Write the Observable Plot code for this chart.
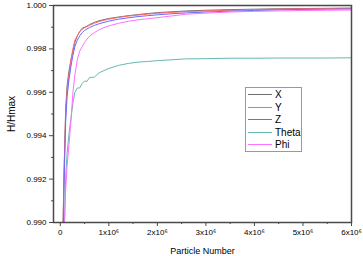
<!DOCTYPE html>
<html><head><meta charset="utf-8">
<script src="https://cdn.jsdelivr.net/npm/d3@7"></script>
<script src="https://cdn.jsdelivr.net/npm/@observablehq/plot@0.6"></script>
<style>
body{margin:0;background:#fff;}
#wrap{position:relative;width:363px;height:256px;font-family:"Liberation Sans",Arial,sans-serif;}
#legend{position:absolute;left:245px;top:87px;width:55px;height:63px;border:1px solid #999;background:#fff;font-size:10px;color:#000;}
#legend .row{position:absolute;left:2px;height:13px;display:flex;align-items:center;}
#legend .sw{width:24px;height:0;border-top:1px solid;margin-right:3px;}
</style></head>
<body><div id="wrap"><div id="legend"></div></div>
<script>
const particles = [50000,80000,110000,140000,180000,220000,260000,300000,350000,400000,450000,500000,550000,600000,700000,800000,900000,1000000,1200000,1400000,1600000,1800000,2000000,2300000,2600000,3000000,3500000,4000000,4500000,5000000,5500000,6000000];
const seriesNames = ["X","Y","Z","Theta","Phi"];
const seriesColors = ["#6e6e6e","#ff6a6a","#6a6aff","#66b8b2","#ff70ff"];
const valX = [0.9893,0.9925,0.9952,0.9963,0.9970,0.9975,0.9979,0.9983,0.9986,0.9988,0.99895,0.9990,0.99905,0.99912,0.99922,0.99930,0.99935,0.99940,0.99947,0.99953,0.99958,0.99963,0.99967,0.99971,0.99975,0.99978,0.99981,0.99983,0.99985,0.99986,0.99987,0.99988];
const valY = [0.9888,0.9926,0.9949,0.9961,0.9968,0.9975,0.9980,0.9984,0.9986,0.9988,0.9989,0.99898,0.99903,0.99908,0.99918,0.99926,0.99932,0.99937,0.99945,0.99951,0.99956,0.99960,0.99964,0.99968,0.99972,0.99975,0.99978,0.99981,0.99983,0.99985,0.99986,0.99987];
const valZ = [0.9880,0.9920,0.9946,0.9958,0.9966,0.9972,0.9977,0.9981,0.9984,0.9986,0.99875,0.99885,0.99892,0.99898,0.99908,0.99916,0.99922,0.99928,0.99937,0.99943,0.99949,0.99953,0.99957,0.99962,0.99966,0.99970,0.99974,0.99977,0.99980,0.99982,0.99983,0.99984];
const valTheta = [0.9860,0.9895,0.9920,0.9932,0.9941,0.9948,0.9955,0.9960,0.9962,0.9962,0.9964,0.99652,0.99650,0.99668,0.99670,0.99690,0.99700,0.99710,0.99724,0.99733,0.99739,0.99742,0.99746,0.99750,0.99754,0.99755,0.99757,0.99757,0.99758,0.99758,0.99758,0.99759];
const valPhi = [0.9850,0.9895,0.9915,0.9926,0.9936,0.9947,0.9960,0.9968,0.9975,0.9979,0.9981,0.9983,0.99845,0.99858,0.99875,0.99888,0.99898,0.99906,0.99918,0.99927,0.99934,0.99939,0.99944,0.99952,0.99960,0.99965,0.99970,0.99973,0.99975,0.99977,0.99978,0.99979];
const xMajor = [0,1000000,2000000,3000000,4000000,5000000,6000000];
const xMinor = [500000,1500000,2500000,3500000,4500000,5500000];
const yMajor = [0.990,0.992,0.994,0.996,0.998,1.000];
const yMinor = [0.991,0.993,0.995,0.997,0.999];

const allVals = [valX,valY,valZ,valTheta,valPhi];
const data = [];
seriesNames.forEach((s,i)=>particles.forEach((p,j)=>data.push({series:s,n:p,v:allVals[i][j]})));

const axisColor = "#4a4a4a";
const chart = Plot.plot({
  width:363, height:256,
  marginLeft:53, marginRight:12, marginTop:5, marginBottom:34,
  style:{fontFamily:"'Liberation Sans', Arial, sans-serif", fontSize:"8px", color:"#000", background:"#fff"},
  x:{domain:[-140000,6000000], axis:null},
  y:{domain:[0.990,1.000], axis:null},
  color:{domain:seriesNames, range:seriesColors},
  marks:[
    Plot.line(data,{x:"n",y:"v",z:"series",stroke:"series",strokeWidth:1,clip:true}),
    Plot.axisX(xMajor,{anchor:"bottom",tickSize:4,tickPadding:3,stroke:axisColor,fill:"#000",
      tickFormat:d=>d===0?"0":`${d/1e6}x10⁶`,label:null,fontSize:8}),
    Plot.axisX({anchor:"bottom",ticks:[],label:"Particle Number",labelAnchor:"center",labelOffset:31,labelArrow:"none",fontSize:9,fill:"#000",tickSize:0}),
    Plot.axisX(xMinor,{anchor:"bottom",tickSize:2,stroke:axisColor,tickFormat:()=>"",label:null}),
    Plot.axisY(yMajor,{anchor:"left",tickSize:4,tickPadding:3,stroke:axisColor,fill:"#000",
      tickFormat:d3.format(".3f"),label:null,fontSize:8}),
    Plot.axisY({anchor:"left",ticks:[],label:"H/Hmax",labelAnchor:"center",labelOffset:46,labelArrow:"none",fontSize:10,fill:"#000",tickSize:0}),
    Plot.axisY(yMinor,{anchor:"left",tickSize:2,stroke:axisColor,tickFormat:()=>"",label:null}),
    Plot.frame({stroke:axisColor,strokeWidth:1.5})
  ]
});
document.getElementById("wrap").prepend(chart);
const leg = document.getElementById("legend");
seriesNames.forEach((s,i)=>{
  const r=document.createElement("div");r.className="row";r.style.top=(i*12.6)+"px";
  const sw=document.createElement("span");sw.className="sw";sw.style.borderColor=seriesColors[i];
  const t=document.createElement("span");t.textContent=s;
  r.appendChild(sw);r.appendChild(t);leg.appendChild(r);
});
</script></body></html>
